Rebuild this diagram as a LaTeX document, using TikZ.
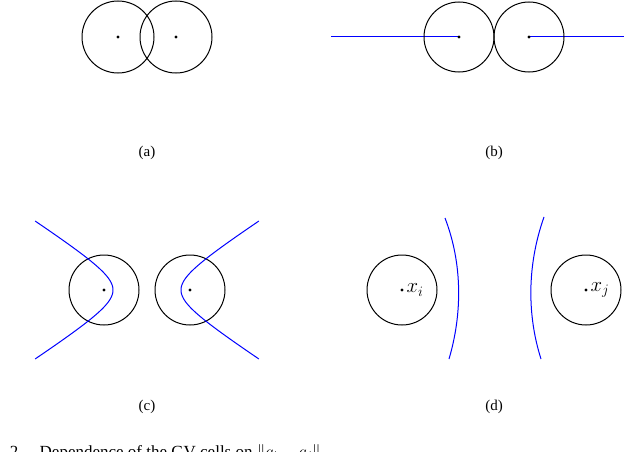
\documentclass[tikz,border=0pt]{standalone}
\usepackage{fontspec}
\setmainfont{Liberation Serif}
\begin{document}
\begin{tikzpicture}[x=1pt,y=-1pt,
  circ/.style={line width=1pt},
  cell/.style={blue,line width=1pt},
  lab/.style={font=\fontsize{15}{17}\selectfont}]
\useasboundingbox (0,0) rectangle (624,452);
\clip (0,0) rectangle (624,452);
% (a)
\draw[circ] (118,37) circle (36);
\draw[circ] (176,37) circle (36);
\fill (118,37) circle (1.6); \fill (176,37) circle (1.6);
\node[lab] (la) at (147,153) {(a)};
% (b)
\coordinate (b1) at (459,37); \coordinate (b2) at (529,37);
\draw[cell] (331,37) -- (b1);
\draw[cell] (b2) -- (624,37);
\draw[circ] (b1) circle (35);
\draw[circ] (b2) circle (35);
\fill (b1) circle (1.6); \fill (b2) circle (1.6);
\node[lab] (lb) at (494,153) {(b)};
% (c)
\draw[circ] (104,290) circle (35);
\draw[circ] (190,290) circle (35);
\fill (104,290) circle (1.6); \fill (190,290) circle (1.6);
\draw[cell,domain=-1.86:1.86,samples=60,smooth] plot ({147-34*cosh(\x)},{290+22*sinh(\x)});
\draw[cell,domain=-1.86:1.86,samples=60,smooth] plot ({147+34*cosh(\x)},{290+22*sinh(\x)});
\node[lab] (lc) at (147,407) {(c)};
% (d)
\draw[circ] (402,290) circle (35);
\draw[circ] (586,290) circle (35);
\fill (402,290) circle (1.6); \fill (586,290) circle (1.6);
\node[font=\fontsize{20}{22}\selectfont,anchor=west] (xi) at (403,290) {$x_i$};
\node[font=\fontsize{20}{22}\selectfont,anchor=west] (xj) at (587,290) {$x_j$};
\draw[cell] (445,218) .. controls (463,265) and (462,315) .. (449,359);
\draw[cell] (544,217) .. controls (527,265) and (527,315) .. (541,359);
\node[lab] (ld) at (494,407) {(d)};
% caption (cut off as in the reference)
\node[font=\fontsize{17}{20}\selectfont,anchor=base west] (cap) at (-12,457) {g. 2.\quad Dependence of the GV cells on $\|q_i-q_j\|$};
\end{tikzpicture}
\end{document}
